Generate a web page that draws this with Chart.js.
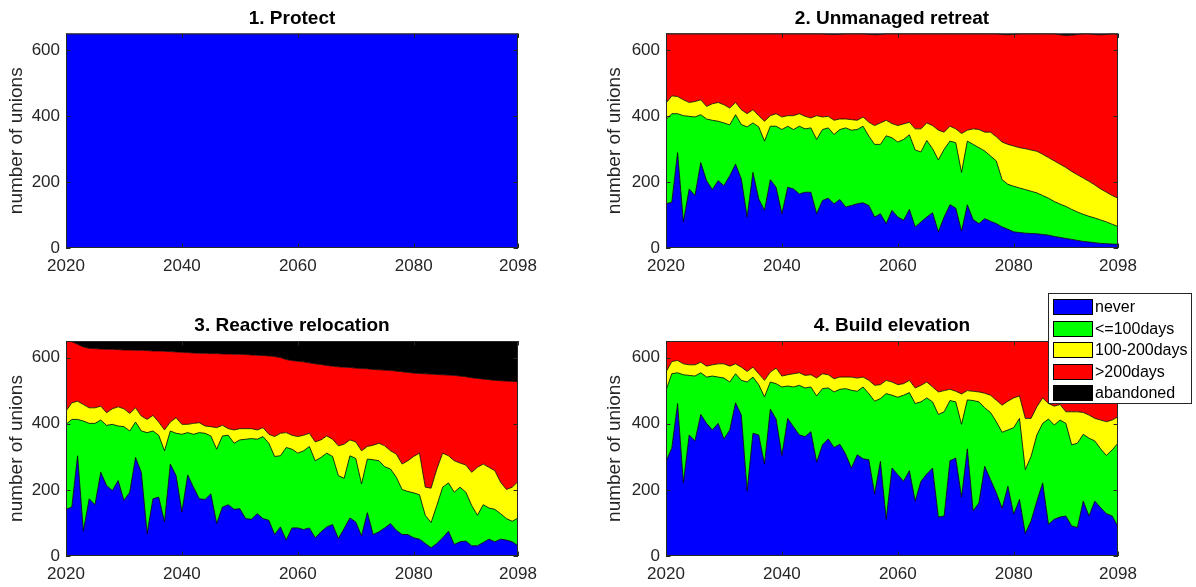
<!DOCTYPE html>
<html><head><meta charset="utf-8">
<script src="https://cdn.jsdelivr.net/npm/chart.js@4/dist/chart.umd.min.js"></script>
<style>
html,body{margin:0;padding:0;background:#fff;width:1196px;height:587px;overflow:hidden}
canvas{position:absolute}
</style></head><body>
<canvas id="c1" width="598" height="293" style="left:0;top:0"></canvas>
<canvas id="c2" width="598" height="293" style="left:598px;top:0"></canvas>
<canvas id="c3" width="598" height="294" style="left:0;top:293px"></canvas>
<canvas id="c4" width="598" height="294" style="left:598px;top:293px"></canvas>
<script>
const years = []; for (let y = 2020; y <= 2098; y++) years.push(y);
const xTickValues = [2020, 2040, 2060, 2080, 2098];
const yTickValues = [0, 200, 400, 600];
const seriesNames = ['never', '<=100days', '100-200days', '>200days', 'abandoned'];
const seriesColors = ['#0000ff', '#00ff00', '#ffff00', '#ff0000', '#000000'];
const panelTitles = ['1. Protect', '2. Unmanaged retreat', '3. Reactive relocation', '4. Build elevation'];
const yAxisLabel = 'number of unions';

// 1. Protect
const protectNever = [
650,650,650,650,650,650,650,650,650,650,
650,650,650,650,650,650,650,650,650,650,
650,650,650,650,650,650,650,650,650,650,
650,650,650,650,650,650,650,650,650,650,
650,650,650,650,650,650,650,650,650,650,
650,650,650,650,650,650,650,650,650,650,
650,650,650,650,650,650,650,650,650,650,
650,650,650,650,650,650,650,650,650];

// 2. Unmanaged retreat
const retreatNever = [
134,139,289,79,179,159,259,204,177,204,
189,219,254,209,94,229,149,114,207,184,
104,184,179,164,169,169,104,144,151,134,
147,124,129,134,137,129,94,104,74,114,
94,84,117,64,79,94,107,49,94,131,
121,51,131,86,74,89,81,74,64,57,
49,47,45,44,43,41,39,35,32,29,
26,23,20,18,16,14,13,12,11];
const retreatLe100 = [
255,268,118,322,220,238,145,187,210,180,
190,154,150,165,273,150,218,210,162,185,
255,185,180,205,192,195,225,215,213,210,
212,240,228,225,232,210,220,210,266,220,
227,245,226,233,212,232,194,218,205,193,
198,178,193,228,230,205,198,190,143,136,
138,135,132,128,124,118,112,106,101,97,
91,86,82,78,75,71,66,60,54];
const retreat100to200 = [
50,54,52,48,42,47,45,38,50,57,
55,51,37,45,40,40,34,60,32,38,
38,32,42,38,38,30,72,38,35,43,
32,27,32,28,28,42,57,65,47,43,
50,47,38,64,70,53,70,90,52,45,
42,118,33,47,55,57,72,73,114,121,
122,122,124,125,126,125,123,123,121,118,
115,113,110,106,100,94,90,87,86];
const retreatOver200 = [
211,189,191,201,209,206,201,221,213,209,
216,226,209,231,243,231,249,266,249,243,
253,249,249,243,251,256,249,253,249,260,
257,259,261,263,253,267,275,268,263,273,
279,274,269,289,289,271,279,293,299,281,
289,303,293,289,291,299,299,313,326,332,
338,346,349,353,357,366,376,386,392,400,
413,425,438,448,456,467,478,491,496];
const retreatAbandoned = [
0,0,0,0,0,0,0,0,0,0,
0,0,0,0,0,0,0,0,0,0,
0,0,0,0,0,0,0,0,2,3,
2,0,0,0,0,2,4,3,0,0,
0,0,0,0,0,0,0,0,0,0,
0,0,0,0,0,0,0,0,3,4,
3,0,0,0,0,0,0,0,4,6,
5,3,0,0,3,4,3,0,3];

// 3. Reactive relocation
const relocNever = [
141,148,303,75,173,155,253,213,198,228,
168,193,298,253,68,173,178,103,278,243,
133,245,208,173,171,188,98,148,155,141,
143,113,111,128,113,108,65,88,48,85,
85,80,85,55,73,88,95,53,83,115,
103,61,131,65,73,85,98,78,65,65,
55,51,38,25,38,55,75,35,43,45,
31,31,41,51,43,51,48,43,31];
const relocLe100 = [
257,265,110,333,228,246,158,182,200,165,
223,185,107,125,305,205,187,215,100,128,
235,128,160,200,200,175,225,215,210,200,
208,240,244,225,248,233,236,215,280,238,
226,238,246,233,225,223,206,190,152,188,
192,157,162,226,215,185,165,160,136,130,
136,134,85,76,115,153,146,158,165,148,
122,92,114,94,98,77,65,62,84];
const reloc100to200 = [
40,50,55,50,47,47,42,38,47,58,
54,53,43,45,40,47,40,63,27,47,
30,25,33,30,22,28,65,32,20,40,
34,32,30,28,27,27,60,68,45,42,
50,47,40,57,53,52,52,90,103,48,
50,100,38,44,53,63,55,70,77,93,
110,126,85,104,110,103,82,95,73,82,
100,145,123,123,117,95,88,103,110];
const relocOver200 = [
212,185,172,174,180,179,173,192,180,173,
178,192,174,199,208,195,215,238,213,199,
218,217,213,210,220,221,224,216,226,229,
225,224,223,226,218,237,242,229,221,226,
228,222,213,236,228,213,221,239,233,219,
223,249,235,229,222,229,243,251,279,267,
252,241,343,345,286,237,244,258,263,267,
286,269,257,265,273,307,328,320,302];
const relocAbandoned = [
0,2,10,18,22,23,24,25,25,26,
27,27,28,28,29,30,30,31,32,33,
34,35,36,37,37,38,38,39,39,40,
40,41,42,43,44,45,47,50,56,59,
61,63,66,69,71,74,76,78,79,80,
82,83,84,86,87,88,89,91,93,95,
97,98,99,100,101,102,103,104,106,108,
111,113,115,117,119,120,121,122,123];

// 4. Build elevation
const elevNever = [
286,326,461,221,366,348,428,401,381,401,
354,381,463,426,196,371,366,278,444,414,
304,416,391,366,361,376,284,336,354,328,
338,308,266,306,294,291,188,286,111,266,
246,226,258,166,226,248,266,118,121,288,
296,178,324,136,161,271,231,191,144,211,
126,171,68,106,166,221,96,111,118,121,
91,86,166,121,166,146,128,121,88];
const elevLe100 = [
215,225,93,327,180,196,126,140,163,140,
184,145,88,105,330,170,152,203,82,107,
207,98,120,150,147,135,200,170,154,168,
166,198,235,192,217,200,280,190,380,220,
234,260,236,295,240,230,200,310,315,182,
170,220,148,334,305,177,203,215,230,170,
262,245,193,195,200,180,318,285,293,280,
245,255,202,235,182,178,176,200,253];
const elev100to200 = [
55,37,37,33,32,34,32,33,34,40,
43,48,30,40,32,30,33,50,30,47,
33,34,40,38,38,37,54,45,40,40,
37,35,40,40,30,40,48,42,40,40,
38,35,37,47,50,48,45,68,64,34,
32,92,28,28,30,44,52,65,82,87,
90,68,155,115,85,77,47,57,47,35,
100,95,66,70,68,87,102,90,80];
const elevOver200 = [
94,62,59,69,72,72,64,76,72,69,
69,76,69,79,92,79,99,119,94,82,
106,102,99,96,104,102,112,99,102,114,
109,109,109,112,109,119,134,132,119,124,
132,129,119,142,134,124,139,154,150,146,
152,160,150,152,154,158,164,179,194,182,
172,166,234,234,199,172,189,197,192,214,
214,214,216,224,234,239,244,239,229];

const FONT = '"Liberation Sans", Arial, Helvetica, sans-serif';
const AX = '#262626';

const axesBox = {
  id: 'axesBox',
  afterDatasetsDraw(chart) {
    const {ctx, chartArea: {left, top, right, bottom}, scales: {x, y}} = chart;
    ctx.save();
    ctx.strokeStyle = AX; ctx.lineWidth = 1;
    ctx.strokeRect(left + 0.5, top + 0.5, right - left - 1, bottom - top - 1);
    const tl = 4.5;
    ctx.beginPath();
    xTickValues.forEach(v => {
      const px = Math.round(x.getPixelForValue(v)) + 0.5;
      ctx.moveTo(px, bottom); ctx.lineTo(px, bottom - tl);
      ctx.moveTo(px, top); ctx.lineTo(px, top + tl);
    });
    yTickValues.forEach(v => {
      const py = Math.round(y.getPixelForValue(v)) + 0.5;
      ctx.moveTo(left, py); ctx.lineTo(left + tl, py);
      ctx.moveTo(right, py); ctx.lineTo(right - tl, py);
    });
    ctx.stroke();
    ctx.restore();
  }
};

const figLegend = {
  id: 'figLegend',
  afterDraw(chart) {
    const ctx = chart.ctx;
    ctx.save();
    const bx = 450.5, by = 0.5, bw = 143, bh = 110;
    ctx.fillStyle = '#fff'; ctx.fillRect(bx, by, bw, bh);
    ctx.strokeStyle = AX; ctx.lineWidth = 1; ctx.strokeRect(bx, by, bw, bh);
    ctx.font = '16px ' + FONT; ctx.textBaseline = 'middle'; ctx.textAlign = 'left';
    seriesNames.forEach((name, i) => {
      const cy = 14 + i * 21.5;
      ctx.fillStyle = seriesColors[i]; ctx.fillRect(455, Math.round(cy - 8), 40, 16);
      ctx.strokeStyle = '#000'; ctx.strokeRect(455.5, Math.round(cy - 8) + 0.5, 39, 15);
      ctx.fillStyle = '#000'; ctx.fillText(name, 497, cy + 1);
    });
    ctx.restore();
  }
};

function makeChart(id, title, seriesList, geom, extraPlugins) {
  const datasets = seriesList.map((vals, i) => ({
    label: seriesNames[i],
    data: vals.map((v, j) => ({x: years[j], y: v})),
    backgroundColor: seriesColors[i],
    borderColor: 'rgba(0,0,0,0.8)',
    borderWidth: 1,
    pointRadius: 0,
    pointHoverRadius: 0,
    fill: i === 0 ? 'origin' : '-1',
    tension: 0
  }));
  return new Chart(document.getElementById(id), {
    type: 'line',
    data: {datasets},
    plugins: [axesBox].concat(extraPlugins || []),
    options: {
      responsive: false, animation: false, devicePixelRatio: 1,
      layout: {padding: {left: 0, right: geom.padR, top: 0, bottom: 0}},
      plugins: {
        legend: {display: false}, tooltip: {enabled: false},
        title: {display: true, text: title, fullSize: false, color: '#000',
          font: {family: FONT, size: 19, weight: 'bold', lineHeight: 1},
          padding: {top: geom.titleTop, bottom: geom.titleBottom}}
      },
      scales: {
        x: {type: 'linear', min: 2020, max: 2098,
          grid: {display: false, drawTicks: false}, border: {display: false},
          afterBuildTicks: s => { s.ticks = xTickValues.map(v => ({value: v})); },
          afterFit: s => { s.height = geom.xH; },
          ticks: {color: AX, font: {family: FONT, size: 17}, padding: 8, maxRotation: 0, autoSkip: false,
            callback: v => String(v)}},
        y: {stacked: true, min: 0, max: 650,
          grid: {display: false, drawTicks: false}, border: {display: false},
          afterBuildTicks: s => { s.ticks = yTickValues.map(v => ({value: v})); },
          afterFit: s => { s.width = geom.yW; },
          ticks: {color: AX, font: {family: FONT, size: 17}, padding: 6, callback: v => String(v)},
          title: {display: true, text: yAxisLabel, color: AX,
            font: {family: FONT, size: 19, lineHeight: 1}, padding: {top: 7.5, bottom: 0}}}
      }
    }
  });
}

const topGeomL = {padR: 80, yW: 66, xH: 45, titleTop: 9.5, titleBottom: 5};
const topGeomR = {padR: 78, yW: 68, xH: 45, titleTop: 9.5, titleBottom: 5};
const botGeomL = {padR: 80, yW: 66, xH: 31, titleTop: 23.5, titleBottom: 5.5};
const botGeomR = {padR: 78, yW: 68, xH: 31, titleTop: 23.5, titleBottom: 5.5};

makeChart('c1', panelTitles[0], [protectNever], topGeomL);
makeChart('c2', panelTitles[1], [retreatNever, retreatLe100, retreat100to200, retreatOver200, retreatAbandoned], topGeomR);
makeChart('c3', panelTitles[2], [relocNever, relocLe100, reloc100to200, relocOver200, relocAbandoned], botGeomL);
makeChart('c4', panelTitles[3], [elevNever, elevLe100, elev100to200, elevOver200], botGeomR, [figLegend]);
</script>
</body></html>
